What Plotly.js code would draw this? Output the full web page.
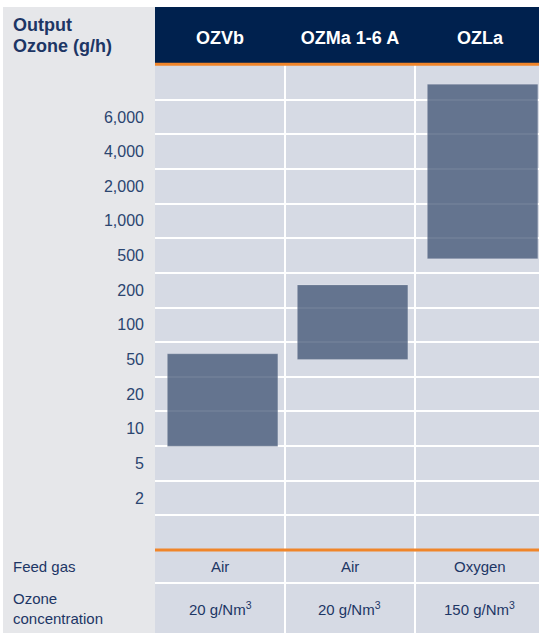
<!DOCTYPE html>
<html>
<head>
<meta charset="utf-8">
<script src="https://cdn.plot.ly/plotly-3.0.1.min.js"></script>
<style>html,body{margin:0;padding:0;background:#fff;}#chart{width:539px;height:633px;}</style>
</head>
<body>
<div id="chart"></div>
<script>
// ---- data ----
var models = ['OZVb', 'OZMa 1-6 A', 'OZLa'];
var outputLow = [7, 50, 460];        // g/h, lower end of range
var outputHigh = [56, 230, 8800];    // g/h, upper end of range
var scaleLabels = ['2', '5', '10', '20', '50', '100', '200', '500', '1,000', '2,000', '4,000', '6,000'];
var scaleValues = [2, 5, 10, 20, 50, 100, 200, 500, 1000, 2000, 4000, 6000];
var feedGas = ['Air', 'Air', 'Oxygen'];
var concentration = ['20 g/Nm<sup>3</sup>', '20 g/Nm<sup>3</sup>', '150 g/Nm<sup>3</sup>'];
var yTitleLines = ['Output', 'Ozone (g/h)'];
var rowTitles = ['Feed gas', 'Ozone<br>concentration'];

// ordinal (evenly spaced) scale with log interpolation between labelled steps
function pos(v) {
  var n = scaleValues.length;
  var i = 0;
  if (v >= scaleValues[n - 1]) i = n - 2;
  else { while (i < n - 2 && v > scaleValues[i + 1]) i++; }
  return i + Math.log(v / scaleValues[i]) / Math.log(scaleValues[i + 1] / scaleValues[i]);
}
var bases = outputLow.map(pos);
var heights = outputHigh.map(function (h, i) { return pos(h) - bases[i]; });
var tickIdx = scaleLabels.map(function (_, i) { return i; });
var rowBounds = [-0.5].concat(tickIdx.map(function (i) { return i + 0.5; }));

var FONT = 'Liberation Sans, Arial, Helvetica, sans-serif';
var NAVY_TXT = '#1d3665';

var trace = {
  type: 'bar',
  x: models,
  base: bases,
  y: heights,
  width: 0.85,
  offset: -0.405,
  marker: { color: 'rgba(60,80,113,0.74)', line: { color: 'rgba(255,255,255,0.18)', width: 1 } },
  hoverinfo: 'skip'
};

var LEFT_X = -0.376;
var annotations = [
  { xref: 'paper', yref: 'paper', x: LEFT_X, y: 1.0825, xanchor: 'left', yanchor: 'middle', align: 'left',
    text: '<b>' + yTitleLines[0] + '</b>', showarrow: false, font: { family: FONT, size: 18, color: NAVY_TXT } },
  { xref: 'paper', yref: 'paper', x: LEFT_X, y: 1.040, xanchor: 'left', yanchor: 'middle', align: 'left',
    text: '<b>' + yTitleLines[1] + '</b>', showarrow: false, font: { family: FONT, size: 18, color: NAVY_TXT } },
  { xref: 'paper', yref: 'paper', x: LEFT_X, y: -0.034, xanchor: 'left', yanchor: 'middle', align: 'left',
    text: rowTitles[0], showarrow: false, font: { family: FONT, size: 15, color: NAVY_TXT } },
  { xref: 'paper', yref: 'paper', x: LEFT_X, y: -0.121, xanchor: 'left', yanchor: 'middle', align: 'left',
    text: rowTitles[1], showarrow: false, font: { family: FONT, size: 15, color: NAVY_TXT } }
];
models.forEach(function (m, i) {
  annotations.push({ xref: 'x', yref: 'paper', x: m, y: -0.034, yanchor: 'middle', text: feedGas[i],
    showarrow: false, font: { family: FONT, size: 15, color: NAVY_TXT } });
  annotations.push({ xref: 'x', yref: 'paper', x: m, y: -0.12, yanchor: 'middle', text: concentration[i],
    showarrow: false, font: { family: FONT, size: 15, color: NAVY_TXT } });
});

var shapes = [
  // left grey panel
  { type: 'rect', xref: 'paper', yref: 'paper', x0: -0.3958, x1: 0, y0: -0.1711, y1: 1.1196, fillcolor: '#e6e7ea', line: { width: 0 }, layer: 'below' },
  // navy header
  { type: 'rect', xref: 'paper', yref: 'paper', x0: 0, x1: 1, y0: 1.0, y1: 1.1196, fillcolor: '#00214e', line: { width: 0 }, layer: 'below' },
  // bottom table area
  { type: 'rect', xref: 'paper', yref: 'paper', x0: 0, x1: 1, y0: -0.1711, y1: 0, fillcolor: '#d6dae4', line: { width: 0 }, layer: 'below' },
  // white separator in bottom table
  { type: 'line', xref: 'paper', yref: 'paper', x0: 0, x1: 1, y0: -0.068, y1: -0.068, line: { color: '#ffffff', width: 2 } },
  // orange lines
  { type: 'line', xref: 'paper', yref: 'paper', x0: 0, x1: 1, y0: 1.0015, y1: 1.0015, line: { color: '#f0852a', width: 3 } },
  { type: 'line', xref: 'paper', yref: 'paper', x0: 0, x1: 1, y0: 0, y1: 0, line: { color: '#f0852a', width: 3 } }
];
// vertical column separators through bottom rows
[0, 1].forEach(function (i) {
  shapes.push({ type: 'line', xref: 'x', yref: 'paper', x0: i + 0.5, x1: i + 0.5, y0: -0.1711, y1: -0.003,
    line: { color: '#ffffff', width: 2 }, layer: 'below' });
});

var layout = {
  width: 539, height: 633, autosize: false,
  margin: { l: 155, r: 0, t: 65, b: 83, pad: 0 },
  paper_bgcolor: '#ffffff',
  plot_bgcolor: '#d6dae4',
  showlegend: false,
  bargap: 0,
  xaxis: {
    type: 'category', side: 'top', range: [-0.5, 2.454],
    tickson: 'boundaries', showgrid: true, gridcolor: '#ffffff', gridwidth: 2,
    ticks: '', showline: false, zeroline: false, ticklabelstandoff: 16,
    tickfont: { family: FONT, size: 18, color: '#ffffff', weight: 'bold' },
    fixedrange: true
  },
  yaxis: {
    range: [-1.5, 12.5], tickmode: 'array', tickvals: tickIdx, ticktext: scaleLabels,
    showgrid: false, zeroline: false, ticks: '', showline: false, ticklabelstandoff: 10,
    tickfont: { family: FONT, size: 16, color: '#2b4570' },
    minor: { tickmode: 'array', tickvals: rowBounds, showgrid: true, gridcolor: '#ffffff', gridwidth: 2, ticks: '' },
    fixedrange: true
  },
  shapes: shapes,
  annotations: annotations
};

Plotly.newPlot('chart', [trace], layout, { displayModeBar: false, staticPlot: true });
</script>
</body>
</html>
